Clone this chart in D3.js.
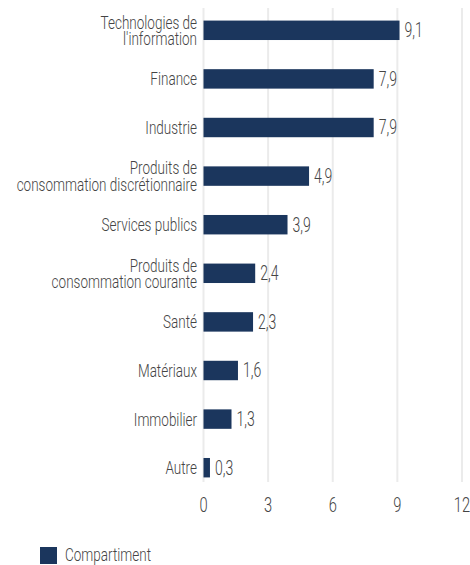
<!DOCTYPE html>
<html><head><meta charset="utf-8">
<script src="https://cdn.jsdelivr.net/npm/d3@7"></script>
<style>
body{margin:0;background:#fff;}
svg{display:block;font-family:Roboto,"Liberation Sans",sans-serif;font-weight:300;}
</style></head>
<body><svg id="c" width="470" height="565"></svg>
<script>
const categories = [
  ["Technologies de","l'information"],
  ["Finance"],
  ["Industrie"],
  ["Produits de","consommation discrétionnaire"],
  ["Services publics"],
  ["Produits de","consommation courante"],
  ["Santé"],
  ["Matériaux"],
  ["Immobilier"],
  ["Autre"]
];
const values = [9.1, 7.9, 7.9, 4.9, 3.9, 2.4, 2.3, 1.6, 1.3, 0.3];
const tickValues = [0, 3, 6, 9, 12];
const seriesName = "Compartiment";

const color = "#1b365d";
const textColor = "#444444";
const SX = 0.73; // horizontal condensation
const svg = d3.select("#c");
const x = d3.scaleLinear().domain([0, 12]).range([203.5, 462]);
const y = d3.scaleBand().domain(d3.range(categories.length)).range([6, 492]).paddingInner(0.6).paddingOuter(0.3);

function label(parent, px, py, lines, opts) {
  const g = parent.append("g").attr("transform", `translate(${px},${py}) scale(${opts.sx || SX},1)`);
  const t = g.append("text").attr("text-anchor", opts.anchor || "start")
    .attr("font-size", opts.size || 18.5).attr("fill", textColor);
  const n = lines.length;
  lines.forEach((line, k) => {
    t.append("tspan").attr("x", 0).attr("y", (k - (n - 1) / 2) * 16.5)
      .attr("dy", "0.35em").text(line);
  });
  return g;
}

// gridlines
svg.append("g").selectAll("line").data(tickValues).join("line")
  .attr("x1", d => x(d)).attr("x2", d => x(d))
  .attr("y1", 8).attr("y2", 482)
  .attr("stroke", "#ebebeb").attr("stroke-width", 2);

// bars
svg.append("g").selectAll("rect").data(values).join("rect")
  .attr("x", x(0)).attr("y", (d, i) => y(i))
  .attr("width", d => x(d) - x(0)).attr("height", y.bandwidth())
  .attr("fill", color);

// value labels
const vg = svg.append("g");
values.forEach((d, i) => label(vg, x(d) + 5, y(i) + y.bandwidth() / 2,
  [d3.format(".1f")(d).replace(".", ",")], {size: 19.5, sx: 0.72}));

// category labels
const cg = svg.append("g");
categories.forEach((d, i) => label(cg, 197, y(i) + y.bandwidth() / 2, d, {anchor: "end", size: 18.5}));

// x axis tick labels
const tg = svg.append("g");
tickValues.forEach(d => label(tg, x(d), 505, [String(d)], {anchor: "middle", size: 21, sx: 0.7}));

// legend
const lg = svg.append("g").attr("transform", "translate(40,547)");
lg.append("rect").attr("width", 17).attr("height", 17).attr("fill", color);
label(lg, 25, 8, [seriesName], {size: 18.5});
</script></body></html>
